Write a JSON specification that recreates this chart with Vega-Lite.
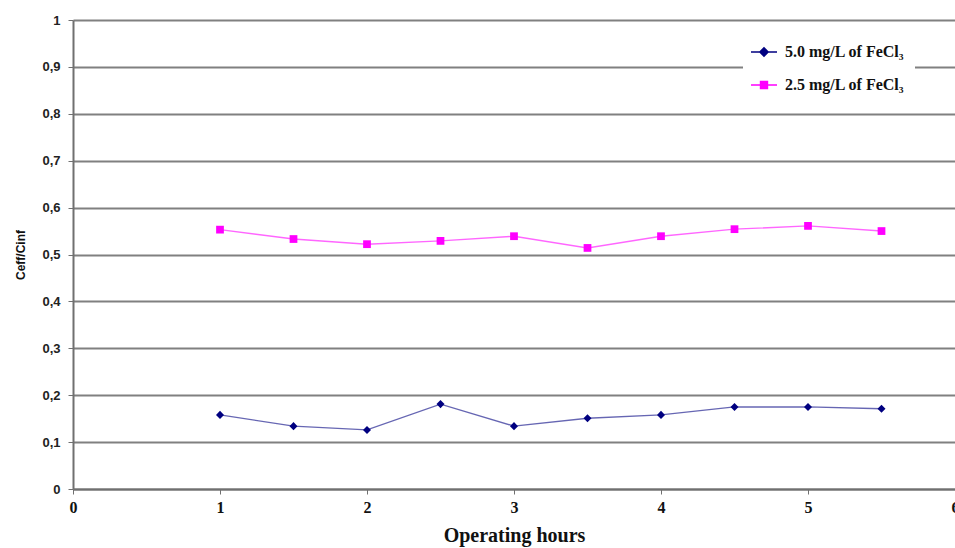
{
  "$schema": "https://vega.github.io/schema/vega-lite/v6.json",
  "width": 882,
  "height": 469,
  "autosize": "none",
  "padding": {"left": 73, "top": 20, "right": 0, "bottom": 59},
  "background": "white",
  "config": {
    "view": {"stroke": null},
    "axis": {"domainColor": "#707070", "tickColor": "#707070", "gridColor": "#808080"}
  },
  "data": {
    "values": [
      {"hours": 1, "ratio": 0.158, "series": "5.0 mg/L of FeCl₃"},
      {"hours": 1.5, "ratio": 0.134, "series": "5.0 mg/L of FeCl₃"},
      {"hours": 2, "ratio": 0.126, "series": "5.0 mg/L of FeCl₃"},
      {"hours": 2.5, "ratio": 0.181, "series": "5.0 mg/L of FeCl₃"},
      {"hours": 3, "ratio": 0.134, "series": "5.0 mg/L of FeCl₃"},
      {"hours": 3.5, "ratio": 0.151, "series": "5.0 mg/L of FeCl₃"},
      {"hours": 4, "ratio": 0.158, "series": "5.0 mg/L of FeCl₃"},
      {"hours": 4.5, "ratio": 0.175, "series": "5.0 mg/L of FeCl₃"},
      {"hours": 5, "ratio": 0.175, "series": "5.0 mg/L of FeCl₃"},
      {"hours": 5.5, "ratio": 0.171, "series": "5.0 mg/L of FeCl₃"},
      {"hours": 1, "ratio": 0.553, "series": "2.5 mg/L of FeCl₃"},
      {"hours": 1.5, "ratio": 0.533, "series": "2.5 mg/L of FeCl₃"},
      {"hours": 2, "ratio": 0.522, "series": "2.5 mg/L of FeCl₃"},
      {"hours": 2.5, "ratio": 0.529, "series": "2.5 mg/L of FeCl₃"},
      {"hours": 3, "ratio": 0.539, "series": "2.5 mg/L of FeCl₃"},
      {"hours": 3.5, "ratio": 0.514, "series": "2.5 mg/L of FeCl₃"},
      {"hours": 4, "ratio": 0.539, "series": "2.5 mg/L of FeCl₃"},
      {"hours": 4.5, "ratio": 0.554, "series": "2.5 mg/L of FeCl₃"},
      {"hours": 5, "ratio": 0.561, "series": "2.5 mg/L of FeCl₃"},
      {"hours": 5.5, "ratio": 0.550, "series": "2.5 mg/L of FeCl₃"}
    ]
  },
  "encoding": {
    "x": {
      "field": "hours", "type": "quantitative",
      "scale": {"domain": [0, 6], "nice": false},
      "axis": {
        "title": "Operating hours", "values": [0, 1, 2, 3, 4, 5, 6], "grid": false,
        "titleFont": "Liberation Serif", "titleFontSize": 20, "titleFontWeight": "bold", "titleColor": "#111",
        "titlePadding": 10,
        "labelFont": "Liberation Serif", "labelFontSize": 16, "labelFontWeight": "bold", "labelColor": "#111",
        "labelPadding": 5, "tickSize": 5, "domainWidth": 2, "labelFlush": false
      }
    },
    "y": {
      "field": "ratio", "type": "quantitative",
      "scale": {"domain": [0, 1], "nice": false},
      "axis": {
        "title": "Ceff/Cinf", "values": [0, 0.1, 0.2, 0.3, 0.4, 0.5, 0.6, 0.7, 0.8, 0.9, 1],
        "format": "~g",
        "labelExpr": "replace(datum.label, '.', ',')",
        "titleFont": "Liberation Sans", "titleFontSize": 12, "titleFontWeight": "bold", "titleColor": "#111",
        "titlePadding": 14,
        "labelFont": "Liberation Sans", "labelFontSize": 13, "labelFontWeight": "bold", "labelColor": "#222",
        "labelPadding": 8, "tickSize": 5, "domainWidth": 2, "gridWidth": 2, "labelFlush": false
      }
    },
    "color": {
      "field": "series", "type": "nominal",
      "scale": {"domain": ["5.0 mg/L of FeCl₃", "2.5 mg/L of FeCl₃"], "range": ["#000080", "#ff00ff"]},
      "legend": {
        "title": null, "orient": "none", "legendX": 670, "legendY": 11,
        "fillColor": "white", "padding": 10, "rowPadding": 14,
        "labelFont": "Liberation Serif", "labelFontSize": 16, "labelFontWeight": "bold", "labelColor": "#111",
        "symbolSize": 400, "labelOffset": 10, "symbolOpacity": 1,
        "encode": {
          "symbols": {
            "update": {
              "shape": {"signal": "indexof(datum.value, '5.0') === 0 ? 'M-1.3,0H1.3M0,-0.42L0.42,0L0,0.42L-0.42,0Z' : 'M-1.3,0H1.3M-0.35,-0.35H0.35V0.35H-0.35Z'"},
              "fill": {"signal": "indexof(datum.value, '5.0') === 0 ? '#000080' : '#ff00ff'"},
              "stroke": {"signal": "indexof(datum.value, '5.0') === 0 ? '#6c6cc4' : '#ff40ff'"},
              "strokeWidth": {"value": 1.4},
              "opacity": {"value": 1},
              "size": {"value": 400}
            }
          }
        }
      }
    }
  },
  "layer": [
    {
      "mark": {"type": "line", "strokeWidth": 1.4, "opacity": 0.6}
    },
    {
      "transform": [{"filter": "indexof(datum.series, '5.0') === 0"}],
      "mark": {"type": "point", "shape": "diamond", "filled": true, "opacity": 1, "size": 65}
    },
    {
      "transform": [{"filter": "indexof(datum.series, '2.5') === 0"}],
      "mark": {"type": "point", "shape": "square", "filled": true, "opacity": 1, "size": 60}
    }
  ]
}
